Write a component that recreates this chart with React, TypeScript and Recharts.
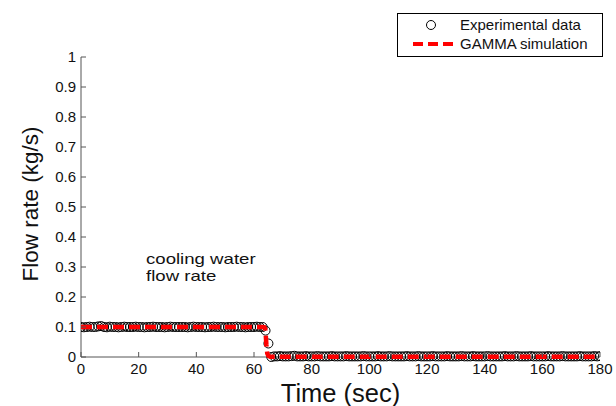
import React from "react";
import { ComposedChart, Scatter, XAxis, YAxis, Legend } from "recharts";

const FONT = "'Liberation Sans', Arial, sans-serif";
const AXIS = "#555";

// measured cooling water flow, one sample per second
const expTime = [
  0, 1, 2, 3, 4, 5, 6, 7, 8, 9, 10, 11, 12, 13, 14, 15, 16, 17, 18, 19,
  20, 21, 22, 23, 24, 25, 26, 27, 28, 29, 30, 31, 32, 33, 34, 35, 36, 37, 38, 39,
  40, 41, 42, 43, 44, 45, 46, 47, 48, 49, 50, 51, 52, 53, 54, 55, 56, 57, 58, 59,
  60, 61, 62, 63, 64, 65, 66, 67, 68, 69, 70, 71, 72, 73, 74, 75, 76, 77, 78, 79,
  80, 81, 82, 83, 84, 85, 86, 87, 88, 89, 90, 91, 92, 93, 94, 95, 96, 97, 98, 99,
  100, 101, 102, 103, 104, 105, 106, 107, 108, 109, 110, 111, 112, 113, 114, 115, 116, 117, 118, 119,
  120, 121, 122, 123, 124, 125, 126, 127, 128, 129, 130, 131, 132, 133, 134, 135, 136, 137, 138, 139,
  140, 141, 142, 143, 144, 145, 146, 147, 148, 149, 150, 151, 152, 153, 154, 155, 156, 157, 158, 159,
  160, 161, 162, 163, 164, 165, 166, 167, 168, 169, 170, 171, 172, 173, 174, 175, 176, 177, 178, 179,
  180,
];
const expFlow = [
  0.1, 0.099, 0.1, 0.101, 0.1, 0.1, 0.102, 0.103, 0.1, 0.099, 0.101, 0.1, 0.1, 0.099, 0.1, 0.101, 0.1, 0.1, 0.1, 0.101,
  0.1, 0.1, 0.099, 0.1, 0.1, 0.101, 0.1, 0.1, 0.1, 0.099, 0.1, 0.101, 0.1, 0.1, 0.1, 0.1, 0.1, 0.099, 0.1, 0.101,
  0.1, 0.1, 0.1, 0.099, 0.1, 0.1, 0.101, 0.1, 0.1, 0.1, 0.099, 0.1, 0.1, 0.1, 0.101, 0.1, 0.1, 0.099, 0.1, 0.1,
  0.1, 0.101, 0.1, 0.1, 0.088, 0.045, 0.0, 0.002, 0.002, 0.003, 0.002, 0.002, 0.002, 0.003, 0.004, 0.002, 0.002, 0.002, 0.003, 0.002,
  0.002, 0.002, 0.003, 0.002, 0.002, 0.002, 0.002, 0.003, 0.002, 0.002, 0.002, 0.002, 0.003, 0.002, 0.002, 0.002, 0.002, 0.002, 0.003, 0.002,
  0.002, 0.002, 0.002, 0.003, 0.002, 0.002, 0.002, 0.003, 0.002, 0.002, 0.002, 0.002, 0.002, 0.003, 0.002, 0.002, 0.002, 0.003, 0.002, 0.002,
  0.002, 0.002, 0.003, 0.002, 0.002, 0.002, 0.002, 0.003, 0.002, 0.002, 0.002, 0.002, 0.003, 0.002, 0.002, 0.002, 0.003, 0.002, 0.002, 0.002,
  0.002, 0.003, 0.002, 0.002, 0.002, 0.002, 0.002, 0.003, 0.002, 0.002, 0.002, 0.003, 0.002, 0.002, 0.002, 0.002, 0.003, 0.002, 0.002, 0.002,
  0.002, 0.002, 0.003, 0.002, 0.002, 0.002, 0.002, 0.003, 0.002, 0.002, 0.002, 0.002, 0.002, 0.003, 0.002, 0.002, 0.002, 0.002, 0.003, 0.002,
  0.003,
];

// GAMMA code result
const simTime = [0, 20, 40, 60, 63, 63.6, 63.9, 64.1, 64.3, 64.6, 65, 65.6, 80, 100, 120, 140, 160, 178.5];
const simFlow = [0.1, 0.1, 0.1, 0.1, 0.1, 0.099, 0.094, 0.07, 0.04, 0.012, 0.004, 0.001, 0.001, 0.001, 0.001, 0.001, 0.001, 0.001];

const xTicks = [0, 20, 40, 60, 80, 100, 120, 140, 160, 180];
const yTicks = [0, 0.1, 0.2, 0.3, 0.4, 0.5, 0.6, 0.7, 0.8, 0.9, 1];

const noteLines = ["cooling water", "flow rate"];

const expData = expTime.map((t, i) => ({ t, v: expFlow[i] }));
const simData = simTime.map((t, i) => ({ t, v: simFlow[i] }));

function YTick({ x, y, payload }: any) {
  return (
    <g>
      <line x1={x} x2={x + 5} y1={y} y2={y} stroke={AXIS} />
      <text x={x - 5} y={y + 5} textAnchor="end" fontSize={15} fontFamily={FONT} fill="#111">
        {payload.value}
      </text>
    </g>
  );
}

function XTick({ x, y, payload }: any) {
  return (
    <g>
      <line x1={x} x2={x} y1={y} y2={y - 5} stroke={AXIS} />
      <text x={x} y={y + 17} textAnchor="middle" fontSize={15} fontFamily={FONT} fill="#111">
        {payload.value}
      </text>
    </g>
  );
}

function LegendBox() {
  return (
    <svg width={207} height={45} style={{ display: "block" }}>
      <rect x={0.5} y={0.5} width={205} height={43} fill="#fff" stroke="#000" />
      <circle cx={34} cy={12} r={4.5} fill="none" stroke="#000" />
      <text x={63} y={17} fontSize={15} fontFamily={FONT} fill="#111">
        Experimental data
      </text>
      <line x1={16} x2={58} y1={31} y2={31} stroke="#ff0000" strokeWidth={4} strokeDasharray="10 5" />
      <text x={63} y={36} fontSize={15} fontFamily={FONT} fill="#111">
        GAMMA simulation
      </text>
    </svg>
  );
}

export default function App() {
  return (
    <div style={{ position: "absolute", left: 0, top: 0, width: 616, height: 406, background: "#fff" }}>
      <ComposedChart width={616} height={406} margin={{ top: 12, right: 16, left: 0, bottom: 0 }}>
        <XAxis
          type="number"
          dataKey="t"
          domain={[0, 180]}
          ticks={xTicks}
          height={49}
          stroke={AXIS}
          tickLine={false}
          tickSize={0}
          tickMargin={0}
          tick={<XTick />}
          allowDataOverflow
          label={{ value: "Time (sec)", position: "insideBottom", offset: 4, fontSize: 25.5, fontFamily: FONT, fill: "#111" }}
        />
        <YAxis
          type="number"
          dataKey="v"
          domain={[0, 1]}
          ticks={yTicks}
          width={81}
          stroke={AXIS}
          tickLine={false}
          tickSize={0}
          tickMargin={0}
          tick={<YTick />}
          label={{ value: "Flow rate (kg/s)", angle: -90, position: "insideLeft", offset: 30, dy: -3, fontSize: 22.5, fontFamily: FONT, fill: "#111", style: { textAnchor: "middle" } }}
        />
        <Legend
          verticalAlign="top"
          align="left"
          wrapperStyle={{ position: "absolute", left: 397, top: 13, width: 207 }}
          content={() => <LegendBox />}
        />
        <Scatter
          name="Experimental data"
          data={expData}
          dataKey="v"
          isAnimationActive={false}
          shape={(p: any) => <circle cx={p.cx} cy={p.cy} r={4.5} fill="none" stroke="#000" strokeWidth={1} />}
        />
        {/* simulation drawn as a scatter line so it stays above the circles */}
        <Scatter
          name="GAMMA simulation"
          data={simData}
          dataKey="v"
          isAnimationActive={false}
          line={{ stroke: "#ff0000", strokeWidth: 4.5, strokeDasharray: "11 5" }}
          lineType="joint"
          shape={() => <g />}
        />
      </ComposedChart>
      {noteLines.map((txt, i) => (
        <div
          key={txt}
          style={{
            position: "absolute",
            left: 146,
            top: 250 + i * 17,
            height: 17,
            fontFamily: FONT,
            fontSize: 15,
            lineHeight: "17px",
            color: "#111",
            transform: "scaleX(1.24)",
            transformOrigin: "left top",
            whiteSpace: "nowrap",
          }}
        >
          {txt}
        </div>
      ))}
    </div>
  );
}
